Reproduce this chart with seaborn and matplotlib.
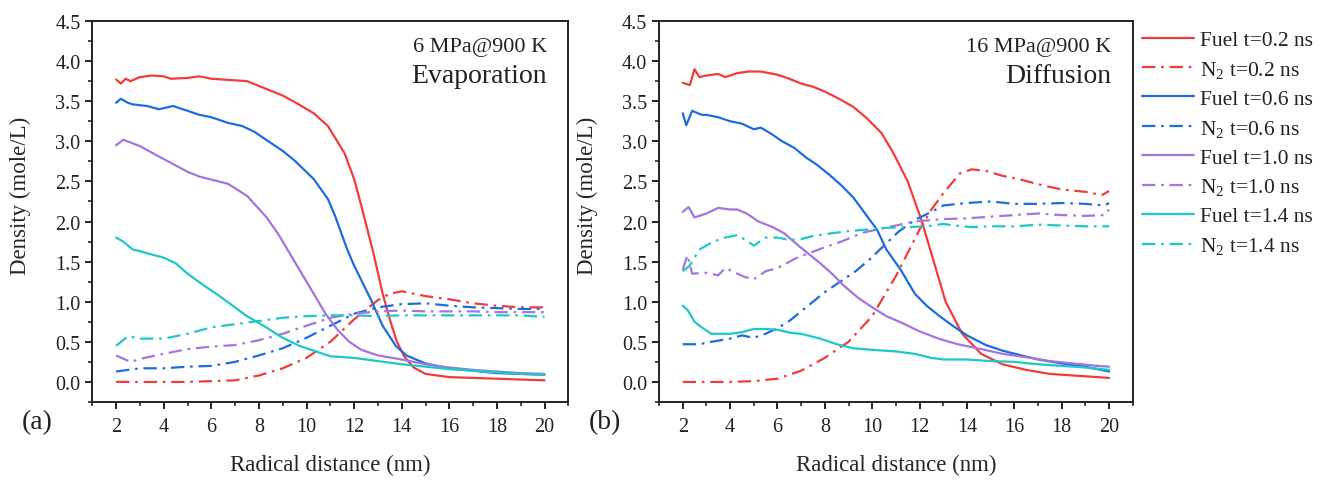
import numpy as np
import pandas as pd
import matplotlib
matplotlib.use("Agg")
import matplotlib.pyplot as plt
from matplotlib.ticker import MultipleLocator
import seaborn as sns

# ---------------- data : panel (a) 6 MPa@900 K ----------------
a_fuel02_x = [2.0, 2.2, 2.4, 2.6, 3.0, 3.5, 4.0, 4.3, 5.0, 5.5, 6.0, 7.0, 7.5, 8.0, 9.0, 9.5, 10.3, 10.9, 11.6, 12.0, 12.3, 12.8, 13.2, 13.5, 13.8, 14.1, 14.5, 15.0, 16.0, 17.0, 18.0, 19.0, 20.0]
a_fuel02_y = [3.77, 3.72, 3.78, 3.75, 3.80, 3.82, 3.81, 3.78, 3.79, 3.81, 3.78, 3.76, 3.75, 3.69, 3.57, 3.49, 3.35, 3.19, 2.85, 2.53, 2.20, 1.62, 1.10, 0.78, 0.50, 0.32, 0.18, 0.10, 0.06, 0.05, 0.04, 0.03, 0.02]

a_fuel06_x = [2.0, 2.2, 2.5, 2.7, 3.3, 3.8, 4.4, 5.0, 5.5, 6.0, 6.7, 7.3, 7.8, 8.3, 9.0, 9.5, 10.3, 10.9, 11.2, 11.7, 12.0, 12.7, 13.2, 13.75, 14.2, 15.0, 16.0, 17.0, 18.0, 19.0, 20.0]
a_fuel06_y = [3.48, 3.53, 3.48, 3.46, 3.44, 3.40, 3.44, 3.38, 3.33, 3.30, 3.23, 3.19, 3.12, 3.02, 2.88, 2.76, 2.53, 2.28, 2.07, 1.66, 1.45, 1.03, 0.70, 0.45, 0.33, 0.23, 0.17, 0.14, 0.11, 0.10, 0.09]

a_fuel10_x = [2.0, 2.3, 3.0, 3.8, 4.5, 5.0, 5.5, 6.7, 7.5, 8.3, 8.8, 9.3, 9.8, 10.3, 10.8, 11.3, 11.8, 12.3, 13.0, 14.0, 15.0, 16.0, 17.0, 18.0, 19.0, 20.0]
a_fuel10_y = [2.95, 3.02, 2.94, 2.81, 2.70, 2.62, 2.56, 2.47, 2.32, 2.06, 1.85, 1.60, 1.35, 1.10, 0.85, 0.65, 0.50, 0.40, 0.33, 0.28, 0.22, 0.18, 0.15, 0.13, 0.11, 0.10]

a_fuel14_x = [2.0, 2.3, 2.7, 3.0, 3.6, 4.0, 4.5, 5.0, 5.7, 6.3, 6.9, 7.5, 8.2, 9.0, 9.7, 10.5, 11.0, 12.0, 13.0, 14.0, 15.0, 16.0, 17.0, 18.0, 19.0, 20.0]
a_fuel14_y = [1.80, 1.75, 1.65, 1.63, 1.58, 1.55, 1.48, 1.35, 1.20, 1.08, 0.95, 0.82, 0.70, 0.55, 0.45, 0.37, 0.32, 0.30, 0.26, 0.22, 0.19, 0.16, 0.14, 0.12, 0.10, 0.09]

a_n2_02_x = [2, 3, 4, 5, 6, 7, 8, 9, 10, 11, 12, 13, 13.5, 14, 14.5, 15, 16, 17, 18, 19, 20]
a_n2_02_y = [0.0, 0.0, 0.0, 0.0, 0.01, 0.02, 0.08, 0.17, 0.30, 0.50, 0.78, 1.02, 1.10, 1.13, 1.10, 1.07, 1.03, 0.98, 0.95, 0.93, 0.93]

a_n2_06_x = [2, 3, 4, 5, 6, 7, 8, 9, 10, 11, 12, 13, 14, 15, 16, 17, 18, 19, 20]
a_n2_06_y = [0.13, 0.17, 0.17, 0.19, 0.20, 0.25, 0.33, 0.42, 0.55, 0.70, 0.85, 0.93, 0.97, 0.98, 0.95, 0.93, 0.92, 0.91, 0.91]

a_n2_10_x = [2, 2.6, 3.2, 4, 5, 6, 7, 8, 9, 10, 11, 12, 13, 14, 15, 16, 17, 18, 19, 20]
a_n2_10_y = [0.33, 0.25, 0.30, 0.35, 0.41, 0.44, 0.46, 0.52, 0.60, 0.70, 0.80, 0.85, 0.88, 0.89, 0.88, 0.88, 0.88, 0.87, 0.87, 0.87]

a_n2_14_x = [2, 2.5, 3, 4, 5, 6, 7, 8, 9, 10, 11, 12, 13, 14, 15, 16, 17, 18, 19, 20]
a_n2_14_y = [0.45, 0.57, 0.54, 0.54, 0.60, 0.68, 0.72, 0.76, 0.80, 0.82, 0.83, 0.83, 0.82, 0.83, 0.83, 0.83, 0.83, 0.83, 0.83, 0.81]

# ---------------- data : panel (b) 16 MPa@900 K ----------------
b_fuel02_x = [2.0, 2.3, 2.5, 2.7, 3.0, 3.5, 3.8, 4.3, 4.8, 5.3, 6.0, 6.5, 7.0, 7.5, 8.0, 8.6, 9.2, 9.8, 10.4, 10.9, 11.5, 12.1, 12.6, 13.1, 13.8, 14.6, 15.5, 16.5, 17.5, 18.5, 19.5, 20.0]
b_fuel02_y = [3.73, 3.70, 3.90, 3.80, 3.82, 3.84, 3.80, 3.85, 3.87, 3.87, 3.83, 3.78, 3.72, 3.68, 3.62, 3.53, 3.43, 3.28, 3.10, 2.85, 2.50, 2.00, 1.50, 1.00, 0.60, 0.35, 0.22, 0.15, 0.10, 0.08, 0.06, 0.05]

b_fuel06_x = [2.0, 2.15, 2.4, 2.8, 3.0, 3.5, 4.0, 4.5, 5.0, 5.3, 5.7, 6.2, 6.7, 7.2, 7.7, 8.2, 8.7, 9.2, 9.7, 10.2, 10.6, 11.2, 11.8, 12.3, 12.8, 13.4, 14.0, 14.8, 15.5, 16.3, 17.0, 18.0, 19.0, 20.0]
b_fuel06_y = [3.35, 3.20, 3.38, 3.33, 3.33, 3.30, 3.25, 3.22, 3.15, 3.17, 3.10, 3.00, 2.92, 2.80, 2.70, 2.58, 2.45, 2.30, 2.10, 1.90, 1.65, 1.40, 1.10, 0.95, 0.83, 0.70, 0.58, 0.46, 0.39, 0.33, 0.28, 0.23, 0.19, 0.13]

b_fuel10_x = [2.0, 2.25, 2.5, 3.0, 3.5, 4.0, 4.3, 4.7, 5.2, 5.8, 6.3, 6.8, 7.3, 7.8, 8.3, 8.8, 9.4, 10.0, 10.6, 11.3, 12.0, 12.8, 13.6, 14.6, 15.5, 16.7, 17.5, 18.5, 19.5, 20.0]
b_fuel10_y = [2.12, 2.18, 2.05, 2.10, 2.17, 2.15, 2.15, 2.10, 2.00, 1.93, 1.85, 1.72, 1.60, 1.48, 1.35, 1.20, 1.05, 0.93, 0.82, 0.73, 0.63, 0.54, 0.47, 0.41, 0.35, 0.30, 0.26, 0.23, 0.20, 0.19]

b_fuel14_x = [2.0, 2.2, 2.5, 2.8, 3.2, 4.0, 4.5, 5.0, 5.5, 6.0, 6.6, 7.0, 7.8, 8.5, 9.2, 10.0, 11.0, 11.8, 12.5, 13.0, 14.0, 15.0, 16.0, 17.0, 18.0, 19.0, 20.0]
b_fuel14_y = [0.95, 0.90, 0.75, 0.68, 0.60, 0.60, 0.62, 0.66, 0.66, 0.65, 0.61, 0.60, 0.54, 0.47, 0.42, 0.40, 0.38, 0.35, 0.30, 0.28, 0.28, 0.26, 0.25, 0.22, 0.20, 0.18, 0.15]

b_n2_02_x = [2, 3, 4, 5, 6, 7, 8, 9, 10, 11, 12, 12.5, 13, 13.7, 14.2, 14.8, 15.5, 16.3, 17.2, 18, 19, 19.7, 20]
b_n2_02_y = [0.0, 0.0, 0.0, 0.01, 0.04, 0.14, 0.30, 0.50, 0.82, 1.32, 1.90, 2.15, 2.35, 2.60, 2.65, 2.63, 2.57, 2.52, 2.45, 2.40, 2.37, 2.33, 2.38]

b_n2_06_x = [2, 2.7, 3.2, 4, 4.5, 5, 5.5, 6, 6.5, 7, 7.5, 8, 8.5, 9.3, 9.9, 10.5, 11.1, 11.8, 12.5, 13, 14, 15, 16, 17, 18, 19, 19.8, 20]
b_n2_06_y = [0.47, 0.47, 0.50, 0.54, 0.58, 0.55, 0.60, 0.67, 0.76, 0.88, 1.00, 1.12, 1.22, 1.38, 1.53, 1.70, 1.87, 2.02, 2.12, 2.20, 2.23, 2.25, 2.22, 2.22, 2.23, 2.22, 2.20, 2.23]

b_n2_10_x = [2, 2.2, 2.4, 3, 3.5, 3.8, 4.6, 5, 5.5, 6, 6.9, 7.3, 8, 8.7, 9.6, 10.2, 11, 11.8, 13, 14, 15, 16, 17, 18, 19, 19.8, 20]
b_n2_10_y = [1.40, 1.58, 1.35, 1.36, 1.33, 1.42, 1.31, 1.28, 1.38, 1.42, 1.56, 1.60, 1.68, 1.75, 1.86, 1.90, 1.95, 2.00, 2.03, 2.04, 2.06, 2.08, 2.10, 2.08, 2.07, 2.08, 2.15]

b_n2_14_x = [2, 2.3, 2.7, 3.3, 3.8, 4.3, 4.6, 5, 5.5, 6, 6.5, 7, 7.5, 8.2, 9, 9.8, 10.5, 11.5, 12.3, 13, 13.5, 14.2, 15, 16, 17, 18, 19, 20]
b_n2_14_y = [1.38, 1.45, 1.65, 1.75, 1.80, 1.83, 1.78, 1.70, 1.80, 1.80, 1.77, 1.78, 1.82, 1.85, 1.88, 1.90, 1.92, 1.93, 1.94, 1.97, 1.95, 1.93, 1.94, 1.94, 1.96, 1.95, 1.94, 1.94]

times = ["0.2", "0.6", "1.0", "1.4"]
colors = ["#F23C3C", "#1F6BE0", "#A474E0", "#1EC8C8"]
panel_notes = [("6 MPa@900 K", "Evaporation"), ("16 MPa@900 K", "Diffusion")]
panel_tags = ["(a)", "(b)"]
x_ticks = [2, 4, 6, 8, 10, 12, 14, 16, 18, 20]
y_ticks = [0.0, 0.5, 1.0, 1.5, 2.0, 2.5, 3.0, 3.5, 4.0, 4.5]

panels = [
    [(a_fuel02_x, a_fuel02_y, a_n2_02_x, a_n2_02_y),
     (a_fuel06_x, a_fuel06_y, a_n2_06_x, a_n2_06_y),
     (a_fuel10_x, a_fuel10_y, a_n2_10_x, a_n2_10_y),
     (a_fuel14_x, a_fuel14_y, a_n2_14_x, a_n2_14_y)],
    [(b_fuel02_x, b_fuel02_y, b_n2_02_x, b_n2_02_y),
     (b_fuel06_x, b_fuel06_y, b_n2_06_x, b_n2_06_y),
     (b_fuel10_x, b_fuel10_y, b_n2_10_x, b_n2_10_y),
     (b_fuel14_x, b_fuel14_y, b_n2_14_x, b_n2_14_y)],
]

# ---------------- style ----------------
sns.set_theme(style="ticks")
plt.rcParams["font.family"] = ["Liberation Serif", "DejaVu Serif"]
plt.rcParams["mathtext.fontset"] = "custom"
plt.rcParams["mathtext.rm"] = "Liberation Serif"
plt.rcParams["mathtext.it"] = "Liberation Serif:italic"
plt.rcParams["axes.linewidth"] = 1.4
plt.rcParams["text.color"] = "#222222"

DASHDOT = (0, (6, 2.6, 1.2, 2.6))
LW = 1.6

fig = plt.figure(figsize=(13.3, 4.81), dpi=100)
ax_pos = [[0.0694, 0.1622, 0.3579, 0.7921], [0.4955, 0.1622, 0.3562, 0.7921]]

axes = []
for p, series in enumerate(panels):
    ax = fig.add_axes(ax_pos[p])
    axes.append(ax)
    for i, (fx, fy, nx, ny) in enumerate(series):
        sns.lineplot(x=fx, y=fy, ax=ax, color=colors[i], lw=LW,
                     label=f"Fuel t={times[i]} ns", sort=False, estimator=None)
        sns.lineplot(x=nx, y=ny, ax=ax, color=colors[i], lw=LW, linestyle=DASHDOT,
                     label="N$\\mathregular{_2}$ t=" + times[i] + " ns", sort=False, estimator=None)
    ax.set_xlim(1, 21)
    ax.set_ylim(-0.25, 4.5)
    ax.set_xticks(x_ticks)
    ax.set_yticks(y_ticks)
    ax.set_yticklabels([f"{v:.1f}" for v in y_ticks])
    ax.xaxis.set_minor_locator(MultipleLocator(1))
    ax.yaxis.set_minor_locator(MultipleLocator(0.25))
    ax.tick_params(which="major", direction="out", length=5, width=1.4, labelsize=14.5,
                   colors="#222222", top=False, right=False)
    ax.tick_params(axis="x", which="major", pad=6)
    ax.tick_params(which="minor", direction="out", length=2.8, width=1.2, top=False, right=False)
    for s in ax.spines.values():
        s.set_visible(True)
        s.set_color("#222222")
    ax.set_xlabel("Radical distance (nm)", fontsize=16.5)
    ax.set_ylabel("Density (mole/L)", fontsize=16.5)
    ax.xaxis.set_label_coords(0.5, -0.163)
    ax.xaxis.label.set_va("center")
    ax.yaxis.set_label_coords(-0.152, 0.543)
    ax.yaxis.label.set_va("center")
    if ax.legend_ is not None:
        ax.legend_.remove()
    ax.text(0.955, 0.934, panel_notes[p][0], transform=ax.transAxes, ha="right",
            va="center", fontsize=16)
    ax.text(0.955, 0.858, panel_notes[p][1], transform=ax.transAxes, ha="right",
            va="center", fontsize=20)

fig.text(0.0278, 0.1206, panel_tags[0], ha="center", va="center", fontsize=20)
fig.text(0.455, 0.1206, panel_tags[1], ha="center", va="center", fontsize=20)

handles, labels = axes[1].get_legend_handles_labels()
fig.legend(handles, labels, loc="upper left", bbox_to_anchor=(0.8586, 0.9355),
           frameon=False, fontsize=15.5, borderpad=0, borderaxespad=0,
           handlelength=2.4, handletextpad=0.3, labelspacing=0.41)

fig.savefig("out.png", dpi=100)
